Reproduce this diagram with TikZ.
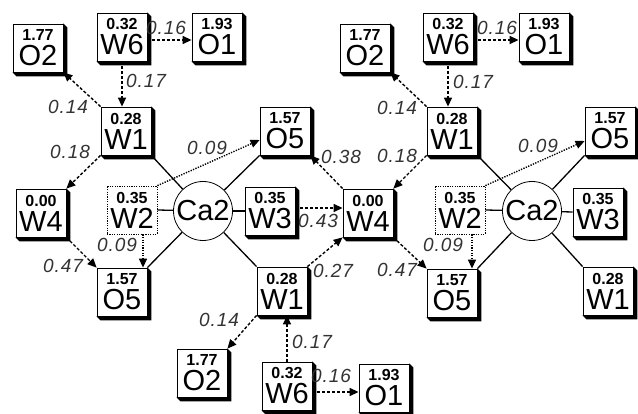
\documentclass[tikz,border=0pt]{standalone}
\usepackage{fontspec}
\setmainfont{Liberation Sans}
\usetikzlibrary{arrows.meta,backgrounds,calc}
\newcommand\numf{\fontsize{16}{16}\selectfont\bfseries}
\newcommand\labf{\fontsize{29}{25}\selectfont}
\newcommand\edgf{\fontsize{19}{19}\selectfont\itshape\addfontfeature{LetterSpace=5}}
\tikzset{
  box/.style={draw=black, line width=0.8pt, fill=white, minimum width=50pt,
    minimum height=48pt, inner sep=0pt, align=center, font=\labf},
  dbox/.style={box, dash pattern=on 1.2pt off 1.2pt},
  atom/.style={circle, draw=black, line width=0.8pt, fill=white,
    minimum size=59pt, inner sep=0pt, font=\labf},
  hb/.style={line width=1.4pt, dash pattern=on 3pt off 2pt,
    -{Triangle[length=9pt,width=8pt]}},
  hbd/.style={line width=1.4pt, dash pattern=on 1.3pt off 1.3pt,
    -{Triangle[length=9pt,width=8pt]}},
  bond/.style={line width=1.3pt},
  elab/.style={font=\edgf, text=black!80, inner sep=0pt}
}
\begin{document}
\begin{tikzpicture}[x=1pt,y=-1pt]
\useasboundingbox (0,0) rectangle (638,414);
% left cluster
\node[box] (O2a) at (38,48) {{\numf 1.77}\\O2};
\node[box] (W6a) at (122,37) {{\numf 0.32}\\W6};
\node[box] (O1a) at (217,37) {{\numf 1.93}\\O1};
\node[box] (W1a) at (126,131) {{\numf 0.28}\\W1};
\node[box] (W4a) at (41,213) {{\numf 0.00}\\W4};
\node[dbox] (W2a) at (132,210) {{\numf 0.35}\\W2};
\node[atom] (Ca2a) at (203,211) {Ca2};
\node[box] (O5a) at (122,292) {{\numf 1.57}\\O5};
\node[box] (O5b) at (285,131) {{\numf 1.57}\\O5};
\node[box] (W3a) at (270,211) {{\numf 0.35}\\W3};
\node[box] (W4m) at (368,213) {{\numf 0.00}\\W4};
\node[box] (W1b) at (282,291) {{\numf 0.28}\\W1};
\node[box] (O2b) at (202,373) {{\numf 1.77}\\O2};
\node[box] (W6b) at (287,386) {{\numf 0.32}\\W6};
\node[box] (O1b) at (384,388) {{\numf 1.93}\\O1};
% right cluster
\node[box] (O2c) at (365,48) {{\numf 1.77}\\O2};
\node[box] (W6c) at (448,37) {{\numf 0.32}\\W6};
\node[box] (O1c) at (544,37) {{\numf 1.93}\\O1};
\node[box] (W1c) at (452,131) {{\numf 0.28}\\W1};
\node[box] (O5c) at (610,131) {{\numf 1.57}\\O5};
\node[dbox] (W2c) at (460,210) {{\numf 0.35}\\W2};
\node[atom] (Ca2c) at (532,211) {Ca2};
\node[box] (W3c) at (598,212) {{\numf 0.35}\\W3};
\node[box] (O5d) at (452,293) {{\numf 1.57}\\O5};
\node[box] (W1d) at (608,291) {{\numf 0.28}\\W1};
% shadows
\begin{pgfonlayer}{background}
\fill[white] (0,0) rectangle (638,414);
\foreach \n in {O2a,W6a,O1a,W1a,W4a,O5a,O5b,W3a,W4m,W1b,O2b,W6b,O1b,O2c,W6c,O1c,W1c,O5c,W3c,O5d,W1d}
  \fill[black] (\n.north east) -- ++(4,4) -- ($(\n.south east)+(4,4)$)
     -- ($(\n.south west)+(4,4)$) -- (\n.south west) -- cycle;
\end{pgfonlayer}
% helper coordinates
\coordinate (w2as) at ($(W2a.south)+(11,0)$);
\coordinate (o5bw) at ($(O5b.west)+(0,9)$);
\coordinate (w2cs) at ($(W2c.south)+(12,0)$);
\coordinate (o5cw) at ($(O5c.west)+(0,10)$);
% bonds
\foreach \a/\b in {Ca2a/W1a.south east, Ca2a/W2a.east, Ca2a/O5a.north east,
  Ca2a/O5b.south west, Ca2a/W3a.west, Ca2a/W1b.north west,
  Ca2c/W1c.south east, Ca2c/W2c.east, Ca2c/O5d.north east,
  Ca2c/O5c.south west, Ca2c/W3c.west, Ca2c/W1d.north west}
  \draw[bond] (\a) -- (\b);
% hydrogen bonds left
\draw[hb] ($(W6a.east)+(0,3)$) -- ($(O1a.west)+(0,3)$);
\draw[hb] (W6a.south) -- (W6a.south |- W1a.north);
\draw[hb] (W1a.north west) -- (O2a.south east);
\draw[hb] (W1a.south west) -- (W4a.north east);
\draw[hb] (W4a.south east) -- (O5a.north west);
\draw[hbd] (w2as) -- (w2as |- O5a.north);
\draw[hbd] (W2a.north east) -- (o5bw);
\draw[hb] ($(W3a.east)+(0,-3)$) -- ($(W4m.west)+(0,-5)$);
\draw[hb] (W4m.north west) -- (O5b.south east);
\draw[hb] (W1b.north east) -- (W4m.south west);
\draw[hb] (W1b.south west) -- (O2b.north east);
\draw[hb] (W6b.north) -- (W6b.north |- W1b.south);
\draw[hb] ($(W6b.east)+(0,6)$) -- ($(O1b.west)+(0,4)$);
% hydrogen bonds right
\draw[hb] ($(W6c.east)+(0,3)$) -- ($(O1c.west)+(0,3)$);
\draw[hb] (W6c.south) -- (W6c.south |- W1c.north);
\draw[hb] (W1c.north west) -- (O2c.south east);
\draw[hb] (W1c.south west) -- (W4m.north east);
\draw[hb] (W4m.south east) -- (O5d.north west);
\draw[hbd] (w2cs) -- (w2cs |- O5d.north);
\draw[hbd] (W2c.north east) -- (o5cw);
% labels
\node[elab] (l1) at (166,28) {0.16};
\node[elab] (l2) at (146,81) {0.17};
\node[elab] (l3) at (68,107) {0.14};
\node[elab] (l4) at (70,152) {0.18};
\node[elab] (l5) at (63,266) {0.47};
\node[elab] (l6) at (117,245) {0.09};
\node[elab] (l7) at (207,148) {0.09};
\node[elab] (l8) at (318,221) {0.43};
\node[elab] (l9) at (341,157) {0.38};
\node[elab] (l10) at (333,271) {0.27};
\node[elab] (l11) at (219,320) {0.14};
\node[elab] (l12) at (312,342) {0.17};
\node[elab] (l13) at (331,376) {0.16};
\node[elab] (r1) at (497,28) {0.16};
\node[elab] (r2) at (473,82) {0.17};
\node[elab] (r3) at (397,108) {0.14};
\node[elab] (r4) at (397,156) {0.18};
\node[elab] (r5) at (397,270) {0.47};
\node[elab] (r6) at (443,245) {0.09};
\node[elab] (r7) at (538,146) {0.09};
\end{tikzpicture}
\end{document}
